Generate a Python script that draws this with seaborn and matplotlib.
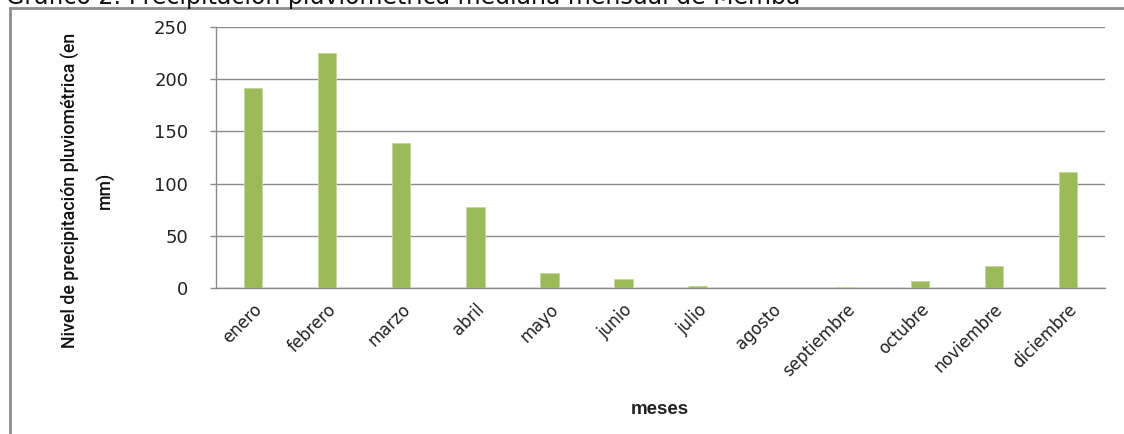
import matplotlib
matplotlib.use("Agg")
import matplotlib.pyplot as plt
from matplotlib import font_manager
import seaborn as sns
import pandas as pd
from matplotlib.patches import Rectangle

meses = ["enero", "febrero", "marzo", "abril", "mayo", "junio", "julio",
         "agosto", "septiembre", "octubre", "noviembre", "diciembre"]
precipitacion = [192, 225, 139, 78, 14, 9, 2, 0, 1, 7, 21, 111]
yticks = [0, 50, 100, 150, 200, 250]

df = pd.DataFrame({"mes": meses, "mm": precipitacion})

sns.set_style("white")
plt.rcParams['font.family'] = ['DejaVu Sans']

installed = {f.name for f in font_manager.fontManager.ttflist}
lblfont = "Roboto" if "Roboto" in installed else "Liberation Sans"

fig = plt.figure(figsize=(11.24, 4.34), dpi=100)
ax = fig.add_axes([216/1124, 1-288/434, (1105-216)/1124, (288-27)/434])

sns.barplot(data=df, x="mes", y="mm", color="#9BBB59", width=0.25,
            saturation=1, ax=ax, zorder=3, edgecolor="#c3d69b", linewidth=0.6)

ax.set_xlim(-0.5, 11.5)
ax.set_ylim(0, 250)
ax.set_yticks(yticks)
ax.set_yticklabels([str(v) for v in yticks], fontsize=13, color="#222222")
ax.yaxis.grid(True, color="#8c8c8c", linewidth=1, zorder=0)
ax.set_axisbelow(True)
ax.tick_params(axis="y", length=4, color="#8c8c8c", width=1, pad=16, left=True)
ax.tick_params(axis="x", length=0, pad=9)
for lbl in ax.get_xticklabels():
    lbl.set_rotation(45)
    lbl.set_ha("right")
    lbl.set_rotation_mode("anchor")
    lbl.set_fontsize(12)
    lbl.set_color("#222222")

for s in ["top", "right"]:
    ax.spines[s].set_visible(False)
ax.spines["left"].set_color("#8c8c8c")
ax.spines["bottom"].set_color("#8c8c8c")
ax.spines["left"].set_linewidth(1)
ax.spines["bottom"].set_linewidth(1)

ax.set_xlabel("")
ax.set_ylabel("")
fig.text(660/1124, 1-410/434, "meses", ha="center", va="center",
         fontsize=13.5, fontweight="bold", family="Liberation Sans", color="#222222")
fig.text(88/1124, 1-190/434, "Nivel de precipitación pluviométrica (en\nmm)",
         ha="center", va="center", rotation=90, fontsize=12.8, fontweight="medium",
         family=[lblfont, "DejaVu Sans"], linespacing=2.1, color="#111111")

# border of chart area (clipped)
fig.patches.append(Rectangle((10/1124, -0.1), 1.2, 1-8/434+0.1,
                             transform=fig.transFigure, fill=False,
                             edgecolor="#8c8c8c", linewidth=2))

# clipped title at top (as in the reference)
fig.text(0.005, 1-4/434, "Gráfico 2: Precipitación pluviométrica mediana mensual de Memba",
         ha="left", va="baseline", fontsize=17, color="#111111")

fig.savefig("out.png", dpi=100)
